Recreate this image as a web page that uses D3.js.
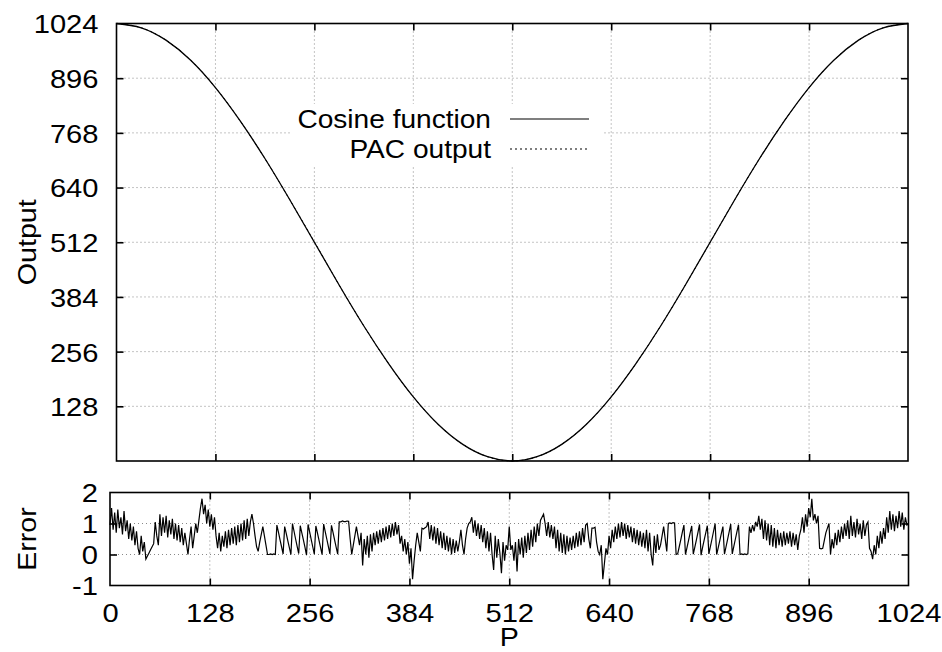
<!DOCTYPE html>
<html>
<head>
  <meta charset="utf-8">
  <script src="https://d3js.org/d3.v7.min.js"></script>
  <style>
    body { margin: 0; background: #fff; }
    text { font-family: "Liberation Sans", Arial, sans-serif; font-size: 26px; fill: #000; }
    .grid line { stroke: #888; stroke-width: 1; stroke-dasharray: 1,3; }
    .frame { fill: none; stroke: #000; stroke-width: 1.6; }
    .axis path { display: none; }
    .axis line { stroke: #000; stroke-width: 1.6; }
  </style>
</head>
<body>
<svg width="942" height="652"></svg>
<script>
  // tick values
  const pTicks = [0, 128, 256, 384, 512, 640, 768, 896, 1024];
  const outTicks = [128, 256, 384, 512, 640, 768, 896, 1024];
  const errTicks = [-1, 0, 1, 2];

  // top panel, read every 32 steps of P
  const cosP = [0, 32, 64, 96, 128, 160, 192, 224, 256, 288, 320, 352, 384, 416, 448, 480, 512,
                544, 576, 608, 640, 672, 704, 736, 768, 800, 832, 864, 896, 928, 960, 992, 1024];
  const cosineOut = [1024, 1014, 985, 938, 874, 796, 708, 612, 512, 412, 316, 228, 150, 86, 39, 10, 0,
                     10, 39, 86, 150, 228, 316, 412, 512, 612, 708, 796, 874, 938, 985, 1014, 1024];
  const pacOut = [1024, 1014, 985, 938, 874, 796, 708, 612, 513, 412, 316, 228, 150, 86, 39, 10, 0,
                  10, 39, 86, 150, 228, 316, 412, 512, 612, 708, 796, 874, 938, 985, 1014, 1024];

  // bottom panel, error read at P = 0, 2, 4, ... 1024
  const errorVal = [
    0.95, 1.5, 0.8, 1.35, 0.7, 1.45, 0.85, 1.2, 0.65, 1.4, 0.75,            // 0-20
    1.1, 0.5, 1.0, 0.45, 0.9, 0.3, 0.75, 0.2, 0.0,                          // 22-38
    0.6, 0.1, 0.4, -0.15, -0.05, 0.05, 0.15, 0.25, 0.35,                    // 40-56
    1.05, 0.6, 0.3,                                                         // 58-62
    1.3, 0.6, 1.2, 0.7, 1.25, 0.55, 1.1, 0.65, 1.15, 0.5, 1.0, 0.45, 0.95, 0.4, 0.85, 0.3, 0.7, 0.35, // 64-98
    0.0, 0.5, 0.9, 0.2, 0.6, 1.0, 0.7,                                      // 100-112
    1.1, 1.5, 1.8, 1.3, 1.6,                                                // 114-122
    1.0, 1.45, 0.9, 1.3, 0.8, 1.2, 0.6,                                     // 124-136
    0.2, 0.7, 0.1, 0.6, 0.25,                                               // 138-146
    0.75, 0.2, 0.8, 0.3, 0.85, 0.35, 0.9, 0.3, 0.95, 0.4, 1.0, 0.45, 1.1, 0.5, 1.15, 0.6, 1.05, // 148-180
    1.3, 1.0, 0.6, 0.25, 0.1, 0.4, 0.65, 0.9, 0.6, 0.3,                     // 182-200
    0.0, 0.0, 0.02, 0.0, 0.02, 0.0,                                         // 202-212
    0.95, 0.72, 0.48, 0.25, 0.02, 0.9, 0.68, 0.45, 0.22, 0.0,               // 214-232
    1.0, 0.75, 0.5, 0.26, 0.03, 0.93, 0.7, 0.47, 0.24, -0.02,               // 234-252
    0.97, 0.73, 0.49, 0.25, 0.01, 0.92, 0.7, 0.46, 0.23, 0.0,               // 254-272
    0.98, 0.74, 0.5, 0.26, 0.02, 0.94, 0.71, 0.47, 0.24, 0.01,              // 274-292
    1.05, 1.05, 1.08, 1.06, 1.06, 1.08, 1.07, 0.5,                          // 294-308
    0.0, 0.3, 0.6, 0.9, 0.6, 0.3, 0.7,                                      // 310-322
    -0.35, 0.5, 0.0, 0.6, -0.1, 0.65, 0.1,                                  // 324-336
    0.7, 0.3, 0.75, 0.35, 0.8, 0.4, 0.85, 0.45, 0.9, 0.5, 0.95, 0.55, 1.0, 0.6, 1.05, 0.65, 0.95, // 338-370
    0.35, 0.6, 0.1, 0.5, 0.0, 0.4, -0.3, 0.2,                               // 372-386
    -0.8, -0.2, 0.3, 0.7, 0.4, 0.1, 0.85, 0.82, 0.86, 0.9,                  // 388-406
    1.05, 0.5, 0.95, 0.45, 0.9, 0.35, 0.85, 0.3, 0.75, 0.2, 0.7, 0.15, 0.6, 0.1, 0.55, 0.0, 0.5, 0.05, 0.45, 0.1, 0.4, // 408-448
    0.8, 0.3, 0.0, 0.5, 0.85, 1.0, 1.05, 1.2,                               // 450-464
    0.7, 1.1, 0.6, 1.0, 0.5, 0.95, 0.4,                                     // 466-478
    0.85, 0.2, 0.75, 0.1, 0.7, 0.0, -0.5, 0.6, -0.1, 0.5, 0.05, -0.6, 0.4, -0.2, 0.3, 0.15, // 480-510
    0.9,                                                                    // 512
    0.15, 0.3, -0.2, 0.4, -0.55, 0.5, 0.0, 0.55, -0.1, 0.6, 0.05, 0.7, 0.15, 0.8, 0.25, // 514-542
    0.9, 0.4, 1.0, 0.6, 1.1, 1.2, 1.3,                                      // 544-556
    1.0, 0.6, 1.05, 0.55, 0.95, 0.5,                                        // 558-568
    0.9, 0.2, 0.8, 0.1, 0.7, 0.05, 0.65, 0.0, 0.6, 0.1, 0.55, 0.15, 0.6, 0.2, 0.7, 0.25, 0.75, 0.3, 0.85, 0.4, 0.95, 1.0, // 570-612
    0.5, 0.2, 0.85, 0.85, 0.88, 0.4,                                        // 614-624
    0.1, 0.0, 0.3, -0.8, -0.3, 0.2,                                         // 626-636
    0.0, 0.6, 0.2, 0.8, 0.4, 0.9, 0.5, 1.0, 0.55, 1.05,                     // 638-656
    0.6, 1.0, 0.5, 0.95, 0.55, 0.9, 0.4, 0.85, 0.35, 0.8, 0.3, 0.75, 0.25, 0.7, 0.2, // 658-686
    0.8, 0.1, 0.7, 0.0, -0.35, 0.6, 0.05, 0.65, 0.15,                       // 688-704
    0.3, 0.6, 0.9, 0.5, 0.1,                                                // 706-714
    1.0, 1.02, 1.0, 1.03, 1.02, 0.0,                                        // 716-726
    0.02, 0.25, 0.48, 0.72, 0.95, 0.0, 0.23, 0.46, 0.7, 0.92,               // 728-746
    0.01, 0.24, 0.47, 0.71, 0.97, -0.02, 0.24, 0.47, 0.7, 0.93,             // 748-766
    0.02, 0.26, 0.5, 0.75, 1.0, 0.0, 0.22, 0.45, 0.68, 0.9,                 // 768-786
    0.01, 0.25, 0.49, 0.73, 0.98, 0.02, 0.26, 0.5, 0.74, 0.96,              // 788-806
    0.0, 0.02, 0.0, 0.02, 0.0, 0.02,                                        // 808-818
    0.9, 0.7, 0.95, 0.75, 1.05, 0.9, 1.25,                                  // 820-832
    0.8, 1.15, 0.5, 1.1, 0.45, 1.0, 0.3, 0.95, 0.25, 0.85, 0.2, 0.8, 0.3, 0.7, 0.25, // 834-862
    0.75, 0.3, 0.7, 0.35, 0.75, 0.25, 0.7, 0.3, 0.65, 0.15, 0.6,            // 864-884
    0.8, 1.2, 0.7, 1.3, 0.9, 1.5, 1.2, 1.8,                                 // 886-900
    1.1, 1.3, 1.0, 1.25,                                                    // 902-908
    0.2, 0.18, 0.2, 0.45, 0.7, 0.85, 1.0,                                   // 910-922
    0.0, 0.5, 0.2, 0.7, 0.3, 0.8, 0.4, 0.9, 0.5,                            // 924-940
    1.0, 0.6, 1.1, 0.5, 1.25, 0.6, 1.05, 0.55, 1.15, 0.65, 1.0, 0.5, 1.1, 0.6, 0.95, 1.05, // 942-972
    0.2, 0.1, -0.15, 0.3,                                                   // 974-980
    0.0, 0.6, 0.2, 0.75, 0.35, 0.85, 0.5,                                   // 982-994
    1.2, 0.7, 1.4, 0.8, 1.3, 0.75, 1.25, 0.85, 1.4, 0.9, 1.35, 0.8, 1.2, 0.95, 1.0 // 996-1024
  ];

  const svg = d3.select("svg");
  const topBox = {left: 116.5, right: 908, top: 23.5, bottom: 461};
  const botBox = {left: 110, right: 908.5, top: 492.5, bottom: 585.5};

  const xTop = d3.scaleLinear().domain([0, 1024]).range([topBox.left, topBox.right]);
  const yTop = d3.scaleLinear().domain([0, 1024]).range([topBox.bottom, topBox.top]);
  const xBot = d3.scaleLinear().domain([0, 1024]).range([botBox.left, botBox.right]);
  const yBot = d3.scaleLinear().domain([-1, 2]).range([botBox.bottom, botBox.top]);

  const plain = d => String(d);   // no thousands comma, plain hyphen for -1

  // stretch text a bit wider, the original font runs wide
  function widen(sel, k) {
    sel.each(function() {
      const w = this.getComputedTextLength();
      d3.select(this).attr("textLength", w * k).attr("lengthAdjust", "spacingAndGlyphs");
    });
  }

  function grid(x, y, xs, ys, box) {
    const g = svg.append("g").attr("class", "grid");
    g.selectAll(".gx").data(xs).join("line")
      .attr("class", "gx")
      .attr("x1", d => x(d)).attr("x2", d => x(d))
      .attr("y1", box.top).attr("y2", box.bottom);
    g.selectAll(".gy").data(ys).join("line")
      .attr("class", "gy")
      .attr("x1", box.left).attr("x2", box.right)
      .attr("y1", d => y(d)).attr("y2", d => y(d));
  }

  function ticks(x, y, xs, ys, box) {
    svg.append("g").attr("class", "axis").attr("transform", `translate(0,${box.bottom})`)
      .call(d3.axisBottom(x).tickValues(xs).tickSizeInner(-7).tickSizeOuter(0).tickFormat(""));
    svg.append("g").attr("class", "axis").attr("transform", `translate(0,${box.top})`)
      .call(d3.axisTop(x).tickValues(xs).tickSizeInner(-7).tickSizeOuter(0).tickFormat(""));
    svg.append("g").attr("class", "axis").attr("transform", `translate(${box.left},0)`)
      .call(d3.axisLeft(y).tickValues(ys).tickSizeInner(-7).tickSizeOuter(0).tickFormat(""));
    svg.append("g").attr("class", "axis").attr("transform", `translate(${box.right},0)`)
      .call(d3.axisRight(y).tickValues(ys).tickSizeInner(-7).tickSizeOuter(0).tickFormat(""));
  }

  // ---- top panel ----
  grid(xTop, yTop, pTicks.slice(1, -1), outTicks.slice(0, -1), topBox);

  // legend box hides the grid behind it
  svg.append("rect").attr("x", 290).attr("y", 104).attr("width", 312).attr("height", 62).attr("fill", "#fff");

  ticks(xTop, yTop, pTicks.slice(1, -1), outTicks.slice(0, -1), topBox);

  const ylab = svg.append("g").attr("class", "axis").attr("transform", `translate(${topBox.left},0)`)
    .call(d3.axisLeft(yTop).tickValues(outTicks).tickSize(0).tickPadding(18).tickFormat(plain));
  ylab.attr("font-size", null).attr("font-family", null);
  ylab.selectAll("text").attr("dy", "0.36em");
  widen(ylab.selectAll("text"), 1.12);

  const cosLine = d3.line().x((d, i) => xTop(cosP[i])).y(d => yTop(d)).curve(d3.curveNatural);
  svg.append("path").attr("d", cosLine(cosineOut))
    .attr("fill", "none").attr("stroke", "#000").attr("stroke-width", 1.3);
  svg.append("path").attr("d", cosLine(pacOut))
    .attr("fill", "none").attr("stroke", "#000").attr("stroke-width", 1)
    .attr("stroke-dasharray", "2,3");

  svg.append("rect").attr("class", "frame")
    .attr("x", topBox.left).attr("y", topBox.top)
    .attr("width", topBox.right - topBox.left).attr("height", topBox.bottom - topBox.top);

  // legend
  const legend = [
    {name: "Cosine function", dash: null},
    {name: "PAC output", dash: "2,3"}
  ];
  const lg = svg.append("g").selectAll("g").data(legend).join("g")
    .attr("transform", (d, i) => `translate(0,${119 + i * 30})`);
  const lgText = lg.append("text").attr("x", 491).attr("dy", "0.36em")
    .attr("text-anchor", "end").text(d => d.name);
  widen(lgText, 1.08);
  lg.append("line").attr("x1", 510).attr("x2", 589)
    .attr("stroke", "#000").attr("stroke-width", 1.1)
    .attr("stroke-dasharray", d => d.dash);

  svg.append("text").attr("transform", `translate(36,${(topBox.top + topBox.bottom) / 2}) rotate(-90)`)
    .attr("text-anchor", "middle").text("Output")
    .call(widen, 1.1);

  // ---- bottom panel ----
  grid(xBot, yBot, pTicks.slice(1, -1), [0, 1], botBox);
  ticks(xBot, yBot, pTicks.slice(1, -1), [0, 1], botBox);

  const elab = svg.append("g").attr("class", "axis").attr("transform", `translate(${botBox.left},0)`)
    .call(d3.axisLeft(yBot).tickValues(errTicks).tickSize(0).tickPadding(12).tickFormat(plain));
  elab.attr("font-size", null).attr("font-family", null);
  elab.selectAll("text").attr("dy", "0.36em");
  widen(elab.selectAll("text"), 1.12);

  const xlab = svg.append("g").attr("class", "axis").attr("transform", `translate(0,${botBox.bottom})`)
    .call(d3.axisBottom(xBot).tickValues(pTicks).tickSize(0).tickPadding(18).tickFormat(plain));
  xlab.attr("font-size", null).attr("font-family", null);
  xlab.selectAll("text").attr("dy", "0.71em");
  widen(xlab.selectAll("text"), 1.12);

  const step = 1024 / (errorVal.length - 1);
  const errLine = d3.line().x((d, i) => xBot(i * step)).y(d => yBot(d));
  svg.append("path").attr("d", errLine(errorVal))
    .attr("fill", "none").attr("stroke", "#000").attr("stroke-width", 1.2);

  svg.append("rect").attr("class", "frame")
    .attr("x", botBox.left).attr("y", botBox.top)
    .attr("width", botBox.right - botBox.left).attr("height", botBox.bottom - botBox.top);

  svg.append("text").attr("transform", `translate(36,${(botBox.top + botBox.bottom) / 2}) rotate(-90)`)
    .attr("text-anchor", "middle").text("Error")
    .call(widen, 1.1);

  svg.append("text").attr("x", xBot(512)).attr("y", 646)
    .attr("text-anchor", "middle").text("P")
    .call(widen, 1.1);
</script>
</body>
</html>
